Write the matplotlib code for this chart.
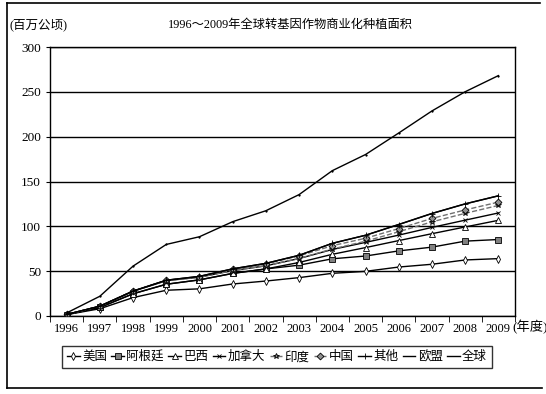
import numpy as np
import matplotlib
matplotlib.use("Agg")
from matplotlib import pyplot as plt
from matplotlib.lines import Line2D

plt.rcParams['font.family'] = ['Liberation Serif', 'Noto Sans CJK SC']

years = ['1996', '1997', '1998', '1999', '2000', '2001', '2002',
         '2003', '2004', '2005', '2006', '2007', '2008', '2009']

# million ha per country (stacked in the chart)
usa       = [1.5, 8.1, 20.5, 28.7, 30.3, 35.7, 39.0, 42.8, 47.6, 49.8, 54.6, 57.7, 62.5, 64.0]
argentina = [0.1, 1.4, 4.3, 6.7, 10.0, 11.8, 13.5, 13.9, 16.2, 17.1, 18.0, 19.1, 21.0, 21.3]
brazil    = [0.0, 0.0, 0.0, 0.0, 0.0, 0.0, 0.0, 3.0, 5.0, 9.4, 11.5, 15.0, 15.8, 21.4]
canada    = [0.1, 1.3, 2.8, 4.0, 3.0, 3.2, 3.5, 4.4, 5.4, 5.8, 6.1, 7.0, 7.6, 8.2]
india     = [0.0, 0.0, 0.0, 0.0, 0.0, 0.0, 0.05, 0.1, 0.5, 1.3, 3.8, 6.2, 7.6, 8.4]
china     = [0.0, 0.0, 0.1, 0.3, 0.5, 1.5, 2.1, 2.8, 3.7, 3.3, 3.5, 3.8, 3.8, 3.7]
others    = [0.0, 0.2, 0.1, 0.2, 0.4, 0.4, 0.55, 0.7, 2.6, 3.3, 4.5, 5.5, 6.7, 7.0]
eu        = [0.0, 0.0, 0.0, 0.0, 0.0, 0.0, 0.0, 0.0, 0.1, 0.1, 0.1, 0.1, 0.1, 0.1]
world     = [1.7, 11.0, 27.8, 39.9, 44.2, 52.6, 58.7, 67.7, 81.0, 90.0, 102.0, 114.3, 125.0, 134.0]

names = ['美国', '阿根廷', '巴西', '加拿大', '印度', '中国', '其他', '欧盟', '全球']
series = [usa, argentina, brazil, canada, india, china, others, eu, world]

# (marker, facecolor, linestyle, color, markersize)
styles = [
    ('d', 'white', '-', 'black', 4),
    ('s', '#808080', '-', 'black', 4),
    ('^', 'white', '-', 'black', 4),
    ('x', 'black', '-', 'black', 3),
    ('*', '#909090', '--', '#707070', 4),
    ('D', '#909090', '--', '#707070', 3.5),
    ('+', 'black', '-', 'black', 5),
    ('', 'black', '-', 'black', 0),
    ('.', 'black', '-', 'black', 2),
]

fig = plt.figure(figsize=(5.46, 3.94), dpi=100)
ax = fig.add_axes([50 / 546, 1 - 316 / 394, 465 / 546, 269 / 394])

x = np.arange(len(years))
stack = np.cumsum(np.array(series), axis=0)
for i in range(len(series)):
    m, fc, ls, c, ms = styles[i]
    ax.plot(x, stack[i], linestyle=ls, color=c, lw=1.0, marker=m if m else None,
            markersize=ms, markerfacecolor=fc, markeredgecolor='black',
            markeredgewidth=0.6, zorder=3 + i)

ax.set_xlim(-0.5, len(years) - 0.5)
ax.set_ylim(0, 300)
ax.set_yticks(range(0, 301, 50))
ax.yaxis.grid(True, color='black', lw=1.0)
ax.set_axisbelow(True)
ax.set_xticks(x)
ax.set_xticklabels(years)
ax.set_xticks(np.arange(-0.5, len(years), 1), minor=True)
ax.tick_params(axis='x', which='major', length=0, labelsize=9, pad=5)
ax.tick_params(axis='x', which='minor', length=4, direction='out')
ax.tick_params(axis='y', length=3, direction='out', labelsize=9.5)
for s in ax.spines.values():
    s.set_linewidth(1.0)

fig.text(290 / 546, 1 - 25 / 394, '1996～2009年全球转基因作物商业化种植面积',
         ha='center', va='center', fontsize=8.8)
fig.text(9 / 546, 1 - 25 / 394, '(百万公顷)', ha='left', va='center', fontsize=9)
fig.text(512 / 546, 1 - 327 / 394, '(年度)', ha='left', va='center', fontsize=9.5)

handles = []
for i in range(len(series)):
    m, fc, ls, c, ms = styles[i]
    if i == len(series) - 1:
        m = ''
    handles.append(Line2D([], [], linestyle=ls, color=c, lw=1.0,
                          marker=m if m else None, markersize=ms,
                          markerfacecolor=fc, markeredgecolor='black',
                          markeredgewidth=0.6))
leg = fig.legend(handles, names, loc='center', bbox_to_anchor=(277 / 546, 1 - 357 / 394),
                 ncol=9, fontsize=9, frameon=True, fancybox=False, handlelength=1.0,
                 handletextpad=0.2, columnspacing=0.35, borderpad=0.4, borderaxespad=0)
leg.get_frame().set_edgecolor('black')
leg.get_frame().set_linewidth(1.0)

# outer chart border (left, top, bottom)
fig.add_artist(Line2D([7 / 546, 7 / 546], [1 - 3 / 394, 1 - 388 / 394], color='black', lw=1.2))
fig.add_artist(Line2D([7 / 546, 540 / 546], [1 - 3 / 394, 1 - 3 / 394], color='black', lw=1.2))
fig.add_artist(Line2D([7 / 546, 542 / 546], [1 - 388 / 394, 1 - 388 / 394], color='black', lw=1.2))

plt.savefig('out.png', dpi=100)
